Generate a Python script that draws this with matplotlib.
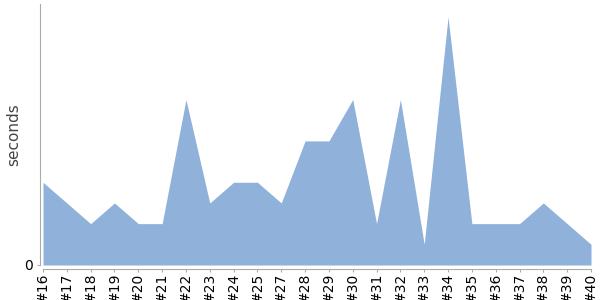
import matplotlib
matplotlib.use("Agg")
import matplotlib.pyplot as plt

# builds (#26 is missing in the source)
builds = ["#16", "#17", "#18", "#19", "#20", "#21", "#22", "#23", "#24", "#25",
          "#27", "#28", "#29", "#30", "#31", "#32", "#33", "#34", "#35", "#36",
          "#37", "#38", "#39", "#40"]
seconds = [4, 3, 2, 3, 2, 2, 8, 3, 4, 4,
           3, 6, 6, 8, 2, 8, 1, 12, 2, 2,
           2, 3, 2, 1]

x = list(range(len(builds)))
px = 0.72  # one pixel in points at dpi 100

fig = plt.figure(figsize=(6, 3), dpi=100)
ax = fig.add_axes([43/600, 35/300, 548/600, 261/300])

ax.fill_between(x, 0, seconds, color="#8fb1da", linewidth=0)

ax.set_xlim(0, len(builds) - 1)
ax.set_ylim(0, 12.62)

ax.set_xticks(x)
ax.set_xticklabels(builds, fontsize=6.5, color="#000000")
ax.set_yticks([0])
ax.set_yticklabels(["0"], fontsize=8, color="#444444")
ax.tick_params(axis="x", length=3*px, width=0.8, color="#aaaaaa", pad=1*px, labelrotation=90)
ax.tick_params(axis="y", length=3*px, width=0.8, color="#aaaaaa", pad=4*px)

for s in ["top", "right"]:
    ax.spines[s].set_visible(False)
ax.spines["left"].set_position(("outward", 3*px))
ax.spines["bottom"].set_position(("outward", 4*px))
ax.spines["left"].set_color("#aaaaaa")
ax.spines["bottom"].set_color("#aaaaaa")
ax.spines["left"].set_linewidth(0.8)
ax.spines["bottom"].set_linewidth(0.8)

ax.set_ylabel("seconds", fontsize=11, color="#444444")
ax.yaxis.set_label_coords(-0.04, 0.5)

fig.savefig("out.png", dpi=100)
